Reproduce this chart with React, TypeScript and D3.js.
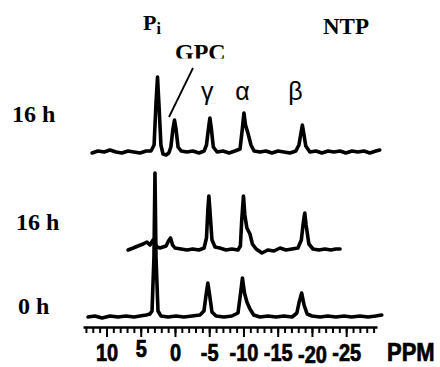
//@ts-nocheck
import { useEffect, useRef } from "react";
import * as d3 from "d3";

// 31P NMR spectra: [ppm, intensity]
const spectrum16hTop = [
  [12.1, 0], [11.25, 2], [10.35, 1], [9.5, 3], [8.6, 1], [7.75, 0], [6.85, 2],
  [6.0, 1], [5.1, 0], [4.2, 2], [3.5, 2], [3.05, 8], [2.77, 50], [2.55, 76],
  [2.35, 50], [2.05, 8], [1.75, -1], [1.3, -2], [0.9, 0], [0.6, 6], [0.3, 24],
  [0.07, 33], [-0.15, 24], [-0.45, 6], [-0.9, 2], [-1.75, 1], [-2.6, 2],
  [-3.5, 0], [-4.25, 2], [-4.6, 8], [-4.9, 25], [-5.1, 35], [-5.3, 25],
  [-5.6, 6], [-6.15, 1], [-7.0, 2], [-7.9, 0], [-8.75, 2], [-9.5, 4],
  [-9.85, 25], [-10.07, 40], [-10.3, 28], [-10.65, 20], [-11.1, 8],
  [-11.55, 2], [-12.4, 1], [-13.3, 2], [-14.15, 0], [-15.05, 2], [-15.9, 1],
  [-16.8, 0], [-17.65, 2], [-18.1, 8], [-18.4, 20], [-18.6, 28], [-18.8, 20],
  [-19.1, 7], [-19.7, 1], [-20.6, 2], [-21.45, 0], [-22.35, 2], [-23.2, 1],
  [-24.1, 2], [-24.95, 0], [-25.85, 2], [-26.7, 1], [-27.6, 2], [-28.45, 0],
  [-29.35, 2], [-29.9, 3],
];

const spectrum16hMid = [
  [6.85, 0], [6.1, 2], [5.4, 4], [4.65, 6], [4.1, 8], [3.65, 5], [3.2, 10],
  [2.9, 6], [2.6, 3], [2.2, 2], [1.75, 3], [1.3, 4], [0.95, 9], [0.65, 12],
  [0.35, 5], [0, 2], [-0.9, 1], [-1.75, 0], [-2.6, 1], [-3.5, 0], [-4.25, 2],
  [-4.6, 12], [-4.8, 40], [-4.95, 54], [-5.1, 40], [-5.4, 10], [-5.85, 3],
  [-6.55, 2], [-7.45, 0], [-8.3, 1], [-9.2, 0], [-9.55, 4], [-9.75, 30],
  [-10.0, 54], [-10.2, 35], [-10.5, 22], [-10.95, 16], [-11.3, 6],
  [-11.85, 1], [-12.7, -3], [-13.55, 0], [-14.45, -1], [-15.35, 2],
  [-16.2, 0], [-17.1, 1], [-17.95, 2], [-18.45, 10], [-18.75, 28],
  [-18.95, 37], [-19.15, 25], [-19.55, 6], [-20.15, 1], [-21.0, 0],
  [-21.9, 1], [-22.75, 0], [-23.5, 1], [-24.1, 1],
];

const spectrum0h = [
  [12.7, 0], [11.7, 1], [10.65, -1], [9.5, 1], [8.3, 0], [7.15, 1], [6.0, 0],
  [5.1, 1], [4.2, 2], [3.65, 3], [3.35, 6], [3.07, 60], [2.92, 144],
  [2.77, 60], [2.48, 6], [2.04, 1], [1.0, 0], [-0.15, 1], [-1.3, 0],
  [-2.5, 1], [-3.65, 2], [-4.23, 6], [-4.5, 20], [-4.8, 34], [-5.1, 20],
  [-5.4, 5], [-6.0, 1], [-7.15, 0], [-8.3, 1], [-9.2, 4], [-9.55, 22],
  [-9.85, 39], [-10.15, 24], [-10.5, 15], [-10.95, 8], [-11.5, 2],
  [-12.4, 0], [-13.6, 1], [-14.75, 0], [-15.9, 1], [-17.1, 0], [-17.8, 4],
  [-18.1, 14], [-18.5, 24], [-18.85, 12], [-19.3, 3], [-20, 1], [-21.2, 0],
  [-22.3, 1], [-23.5, 0], [-24.7, 1], [-25.8, 0], [-27, 1], [-28.2, 0],
  [-29.3, 1], [-30.2, 2],
];

const traceLabels = ["16 h", "16 h", "0 h"];
const peakLabels = ["γ", "α", "β"];
const peakPpm = [-4.7, -9.85, -17.6];
const majorTicks = [10, 5, 0, -5, -10, -15, -20, -25];
const minorTicks = d3.range(13, -30, -1);

export default function App() {
  const ref = useRef<SVGSVGElement>(null);

  useEffect(() => {
    const svg = d3.select(ref.current);
    svg.selectAll("*").remove();

    const x = d3.scaleLinear().domain([13.43, -29.5]).range([83, 377]);
    const axisY = 327;
    const sans = "Liberation Sans, Arial, sans-serif";
    const serif = "Liberation Serif, Times New Roman, serif";
    const stretch = 1.18; // the tick labels are drawn a bit taller than wide

    // traces
    const traces = [
      { data: spectrum16hTop, base: 153 },
      { data: spectrum16hMid, base: 250 },
      { data: spectrum0h, base: 317 },
    ];
    traces.forEach((t) => {
      const y = d3.scaleLinear().domain([0, 150]).range([t.base, t.base - 150]);
      const path = d3
        .line()
        .x((d) => x(d[0]))
        .y((d) => y(d[1]))
        .curve(d3.curveLinear);
      svg
        .append("path")
        .attr("d", path(t.data))
        .attr("fill", "none")
        .attr("stroke", "#000")
        .attr("stroke-width", 3.6)
        .attr("stroke-linejoin", "round")
        .attr("stroke-linecap", "round");
    });

    // axis: minor ticks
    const gMinor = svg
      .append("g")
      .attr("transform", `translate(0,${axisY})`)
      .call(d3.axisBottom(x).tickValues(minorTicks).tickSize(6).tickSizeOuter(0).tickFormat(() => ""));
    gMinor.select(".domain").attr("stroke-width", 2.5);
    gMinor.selectAll(".tick line").attr("stroke-width", 2);

    const gMajor = svg
      .append("g")
      .attr("transform", `translate(0,${axisY})`)
      .call(d3.axisBottom(x).tickValues(majorTicks).tickSize(10).tickSizeOuter(0).tickFormat((d) => `${d}`));
    gMajor.select(".domain").remove();
    gMajor.selectAll(".tick line").attr("stroke-width", 2);
    gMajor
      .selectAll(".tick text")
      .attr("dy", 0)
      .attr("y", (d) => (d === 5 ? 30 : d === -20 ? 36 : 34.5) / stretch)
      .attr("transform", `scale(1,${stretch})`)
      .attr("font-family", sans)
      .attr("font-weight", "bold")
      .attr("font-size", 20)
      .attr("stroke", "#000")
      .attr("stroke-width", 0.6)
      .attr("fill", "#000");

    svg
      .append("text")
      .text("PPM")
      .attr("x", 387)
      .attr("y", 361.5 / stretch)
      .attr("transform", `scale(1,${stretch})`)
      .attr("font-family", sans)
      .attr("font-weight", "bold")
      .attr("font-size", 22)
      .attr("stroke", "#000")
      .attr("stroke-width", 0.6);

    // trace labels
    const labelPos = [
      [12, 122],
      [16, 230],
      [18, 314],
    ];
    traceLabels.forEach((l, i) => {
      svg
        .append("text")
        .text(l)
        .attr("x", labelPos[i][0])
        .attr("y", labelPos[i][1])
        .attr("font-family", serif)
        .attr("font-weight", "bold")
        .attr("font-size", 24);
    });

    // peak labels
    peakLabels.forEach((l, i) => {
      svg
        .append("text")
        .text(l)
        .attr("x", x(peakPpm[i]))
        .attr("y", 100)
        .attr("text-anchor", "middle")
        .attr("font-family", sans)
        .attr("font-size", 25);
    });

    const pi = svg
      .append("text")
      .attr("x", 143)
      .attr("y", 30)
      .attr("font-family", serif)
      .attr("font-weight", "bold")
      .attr("font-size", 22);
    pi.append("tspan").text("P");
    pi.append("tspan").text("i").attr("font-size", 16).attr("dy", 4);

    svg
      .append("text")
      .text("NTP")
      .attr("x", 323)
      .attr("y", 34)
      .attr("font-family", serif)
      .attr("font-weight", "bold")
      .attr("font-size", 23);

    svg
      .append("clipPath")
      .attr("id", "gpcClip")
      .append("rect")
      .attr("x", 160)
      .attr("y", 30)
      .attr("width", 100)
      .attr("height", 28.5);
    svg
      .append("text")
      .text("GPC")
      .attr("x", 175)
      .attr("y", 60)
      .attr("clip-path", "url(#gpcClip)")
      .attr("font-family", serif)
      .attr("font-weight", "bold")
      .attr("font-size", 24);

    svg
      .append("line")
      .attr("x1", 193)
      .attr("y1", 68)
      .attr("x2", 169)
      .attr("y2", 117)
      .attr("stroke", "#000")
      .attr("stroke-width", 1.8);
  }, []);

  return (
    <svg
      ref={ref}
      width={440}
      height={367}
      style={{ position: "absolute", left: 0, top: 0, background: "#fff" }}
    ></svg>
  );
}
